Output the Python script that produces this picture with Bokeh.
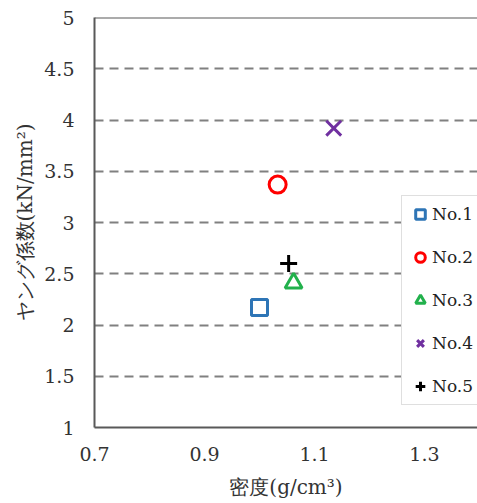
from bokeh.plotting import figure
from bokeh.models import (FixedTicker, CustomJSTickFormatter, Span, Legend, LegendItem,
                          ColumnDataSource, Range1d)
from bokeh.embed import file_html
from bokeh.resources import INLINE

# ---- data ----
names = ["No.1", "No.2", "No.3", "No.4", "No.5"]
density = [1.00, 1.033, 1.062, 1.135, 1.053]
young = [2.17, 3.37, 2.41, 3.92, 2.60]
markers = ["square", "circle", "triangle", "x", "cross"]
colors = ["#2E75B6", "#FF0000", "#22B14C", "#7030A0", "#000000"]
x_ticks = [0.7, 0.9, 1.1, 1.3]
y_ticks = [1, 1.5, 2, 2.5, 3, 3.5, 4, 4.5, 5]
grid_ticks = [1.5, 2, 2.5, 3, 3.5, 4, 4.5]

SERIF = "DejaVu Serif"
msizes = [16, 17, 17, 21, 17]

p = figure(width=477, height=503, output_backend="svg", toolbar_location=None,
           x_range=Range1d(0.7, 1.3964), y_range=Range1d(1, 5),
           min_border_left=94, min_border_right=0, min_border_top=17, min_border_bottom=76)
p.outline_line_color = None
p.background_fill_color = "white"
p.border_fill_color = "white"

fmt = CustomJSTickFormatter(code="return String(Math.round(tick*10)/10);")

for ax, ticks in ((p.xaxis[0], x_ticks), (p.yaxis[0], y_ticks)):
    ax.ticker = FixedTicker(ticks=ticks)
    ax.formatter = fmt
    ax.major_tick_in = 0
    ax.major_tick_out = 0
    ax.minor_tick_in = 0
    ax.minor_tick_out = 0
    ax.axis_line_color = "#595959"
    ax.axis_line_width = 2
    ax.major_label_text_font = SERIF
    ax.major_label_text_font_size = "19px"
    ax.major_label_text_color = "#333333"
    ax.axis_label_text_font = SERIF
    ax.axis_label_text_font_size = "20px"
    ax.axis_label_text_font_style = "normal"
    ax.axis_label_text_color = "#333333"

p.xaxis.major_label_standoff = 19
p.yaxis.major_label_standoff = 20
p.xaxis.axis_label = "密度(g/cm³)"
p.yaxis.axis_label = "ヤング係数(kN/mm²)"
p.xaxis.axis_label_standoff = 11
p.yaxis.axis_label_standoff = 4

p.xgrid.visible = False
p.ygrid.ticker = FixedTicker(ticks=grid_ticks)
p.ygrid.grid_line_color = "#808080"
p.ygrid.grid_line_width = 2
p.ygrid.grid_line_dash = "9 6"

p.add_layout(Span(location=5, dimension="width", line_color="#595959", line_width=2))

items = []
for i in range(len(names)):
    src = ColumnDataSource(dict(x=[density[i]], y=[young[i]]))
    r = p.scatter("x", "y", source=src, marker=markers[i], size=msizes[i],
                  line_color=colors[i], line_width=3, fill_color=None)
    items.append(LegendItem(label=names[i], renderers=[r]))

legend = Legend(items=items, location=(307, 22))
legend.glyph_width = 24
legend.glyph_height = 24
legend.label_height = 20
legend.spacing = 19
legend.padding = 6
legend.margin = 0
legend.label_standoff = -4
legend.label_text_font = SERIF
legend.label_text_font_size = "17px"
legend.label_text_color = "#222222"
legend.border_line_color = "#BFBFBF"
legend.border_line_width = 1
legend.background_fill_color = "white"
legend.background_fill_alpha = 1
p.add_layout(legend, "center")

open("out.html", "w").write(file_html(p, INLINE))
